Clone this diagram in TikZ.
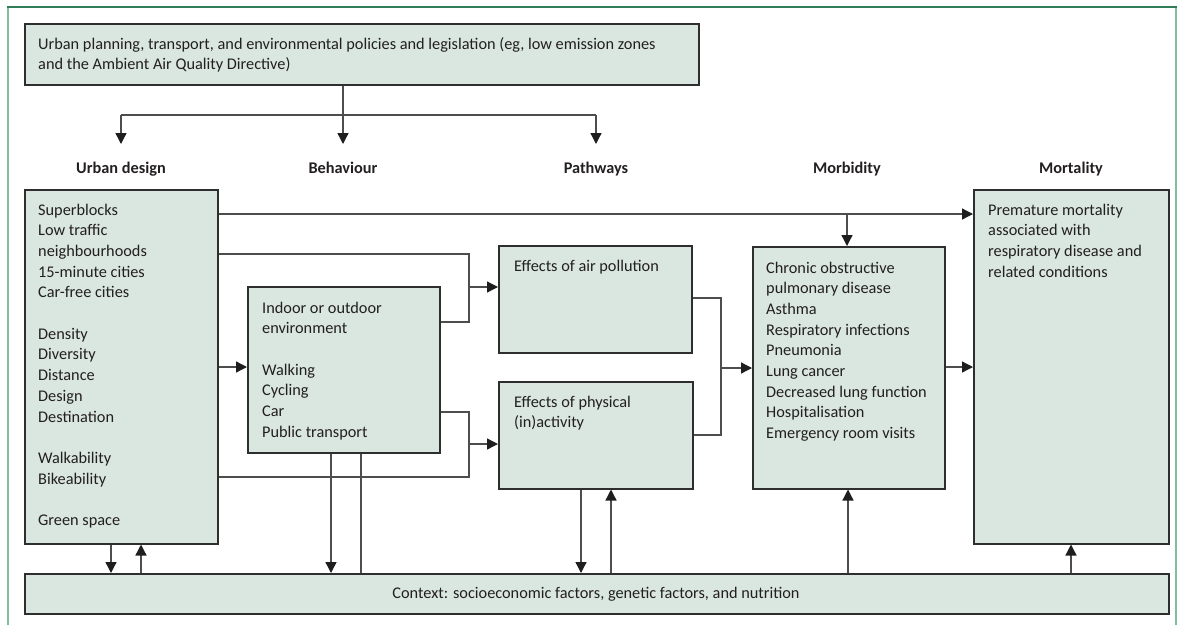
\documentclass[tikz,border=0pt]{standalone}
\usepackage{fontspec}
\setmainfont{Carlito}
\usetikzlibrary{arrows.meta}
\definecolor{boxfill}{HTML}{DAE7E0}
\definecolor{boxline}{HTML}{2E2E2E}
\definecolor{connc}{HTML}{4D4D4D}
\definecolor{tipc}{HTML}{1E1E1E}
\definecolor{frametop}{HTML}{2F7D57}
\definecolor{frameside}{HTML}{7FBF9F}
\definecolor{ink}{HTML}{231F20}
\newcommand{\rows}[1]{\begin{tabular}[t]{@{}l@{}}#1\end{tabular}}
\begin{document}
\begin{tikzpicture}[x=1pt,y=-1pt,
  box/.style={draw=boxline, fill=boxfill, line width=1.5pt, inner sep=0pt, anchor=north west},
  txt/.style={anchor=base west, inner sep=0pt, text=ink, font=\fontsize{16.3}{20.7}\selectfont},
  head/.style={anchor=base, inner sep=0pt, text=ink, font=\fontsize{16.3}{20.7}\selectfont\bfseries},
  conn/.style={draw=connc, line width=1.3pt},
  arr/.style={conn, -{Triangle[length=11pt,width=11pt,color=tipc]}},
]
\useasboundingbox (0,0) rectangle (1184,625);
% frame
\draw[frameside, line width=2pt] (8,7) -- (8,625);
\draw[frameside, line width=2pt] (1176,7) -- (1176,625);
\draw[frametop, line width=1.2pt] (7,7) -- (1177,7);

% boxes
\node[box, minimum width=674pt, minimum height=61pt] (top) at (24,23) {};
\node[box, minimum width=193pt, minimum height=354pt] (ud) at (24,189) {};
\node[box, minimum width=192pt, minimum height=166pt] (beh) at (247,286) {};
\node[box, minimum width=193pt, minimum height=107pt] (air) at (498,245) {};
\node[box, minimum width=194pt, minimum height=107pt] (phys) at (498,381) {};
\node[box, minimum width=192pt, minimum height=242pt] (morb) at (752,246) {};
\node[box, minimum width=195pt, minimum height=354pt] (mort) at (973,189) {};
\node[box, minimum width=1144pt, minimum height=40pt] (ctx) at (24,573) {};

% texts
\node[txt] (toptxt) at (38,49) {\rows{Urban planning, transport, and environmental policies and legislation (eg, low emission zones\\and the Ambient Air Quality Directive)}};
\node[txt] (udtxt) at (38,215) {\rows{Superblocks\\Low traffic\\neighbourhoods\\15-minute cities\\Car-free cities\\ \\Density\\Diversity\\Distance\\Design\\Destination\\ \\Walkability\\Bikeability\\ \\Green space}};
\node[txt] (behtxt) at (262,313) {\rows{Indoor or outdoor\\environment\\ \\Walking\\Cycling\\Car\\Public transport}};
\node[txt] (airtxt) at (514,271) {Effects of air pollution};
\node[txt] (phystxt) at (514,407) {\rows{Effects of physical\\(in)activity}};
\node[txt] (morbtxt) at (766,273) {\rows{Chronic obstructive\\pulmonary disease\\Asthma\\Respiratory infections\\Pneumonia\\Lung cancer\\Decreased lung function\\Hospitalisation\\Emergency room visits}};
\node[txt] (morttxt) at (988,215) {\rows{Premature mortality\\associated with\\respiratory disease and\\related conditions}};
\node[txt, anchor=base] (ctxtxt) at (596,598) {Context: socioeconomic factors, genetic factors, and nutrition};

% headings
\node[head] (h1) at (121,173) {Urban design};
\node[head] (h2) at (343,173) {Behaviour};
\node[head] (h3) at (596,173) {Pathways};
\node[head] (h4) at (847,173) {Morbidity};
\node[head] (h5) at (1071,173) {Mortality};

% top distribution
\coordinate (hL) at (121,115);
\coordinate (hM) at (343,115);
\coordinate (hR) at (596,115);
\draw[conn] (top.south -| hM) -- (hM);
\draw[conn] (hL) -- (hR);
\draw[arr] (hL) -- ++(0,29);
\draw[arr] (hM) -- ++(0,29);
\draw[arr] (hR) -- ++(0,29);

% urban design -> mortality, branch to morbidity
\coordinate (brM) at (847,214);
\draw[arr] (ud.east |- brM) -- (mort.west |- brM);
\draw[arr] (brM) -- (brM |- morb.north);

% to air pollution
\coordinate (jA) at (469,287);
\draw[conn] (ud.east |- 0,254) -- (469,254) -- (469,322) -- (beh.east |- 0,322);
\draw[arr] (jA) -- (jA -| air.west);

% urban design -> behaviour
\draw[arr] (ud.east |- 0,367) -- (beh.west |- 0,367);

% to physical activity
\coordinate (jP) at (469,444);
\draw[conn] (beh.east |- 0,412) -- (469,412) -- (469,477) -- (ud.east |- 0,477);
\draw[arr] (jP) -- (jP -| phys.west);

% pathways -> morbidity
\coordinate (jM) at (721,368);
\draw[conn] (air.east |- 0,298) -- (721,298) -- (721,435) -- (phys.east |- 0,435);
\draw[arr] (jM) -- (jM -| morb.west);

% morbidity -> mortality
\draw[arr] (morb.east |- 0,367) -- (mort.west |- 0,367);

% context links
\draw[arr] (ud.south -| 111,0) -- (ctx.north -| 111,0);
\draw[arr] (ctx.north -| 141,0) -- (ud.south -| 141,0);
\draw[arr] (beh.south -| 331,0) -- (ctx.north -| 331,0);
\draw[conn] (beh.south -| 361,0) -- (ctx.north -| 361,0);
\draw[arr] (phys.south -| 581,0) -- (ctx.north -| 581,0);
\draw[arr] (ctx.north -| 611,0) -- (phys.south -| 611,0);
\draw[arr] (ctx.north -| 848,0) -- (morb.south -| 848,0);
\draw[arr] (ctx.north -| 1071,0) -- (mort.south -| 1071,0);
\end{tikzpicture}
\end{document}
